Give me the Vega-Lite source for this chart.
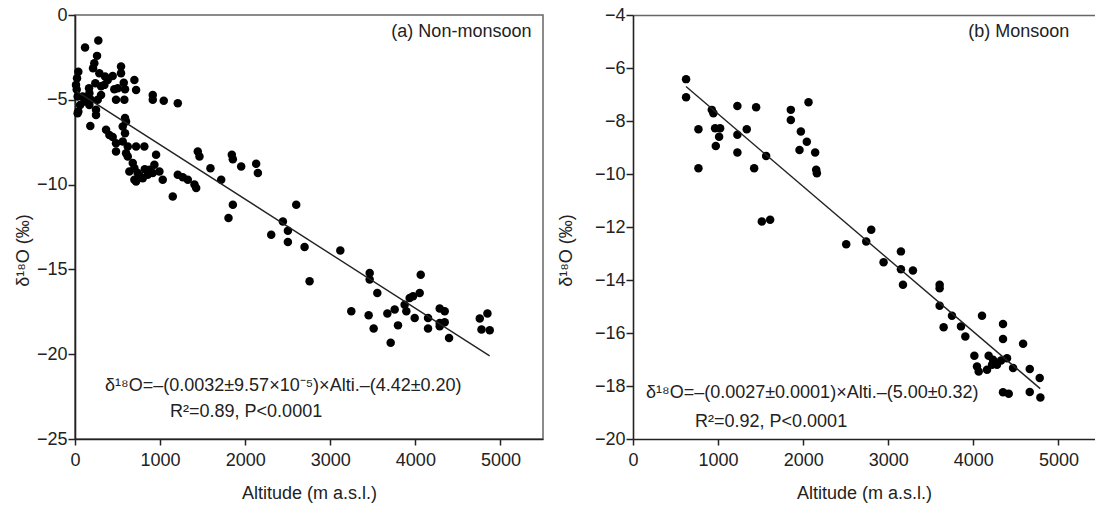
{
  "$schema": "https://vega.github.io/schema/vega-lite/v6.json",
  "padding": {"left": 13, "top": 5, "right": 0, "bottom": 0},
  "background": "white",
  "spacing": 13,
  "config": {
    "font": "Liberation Sans",
    "view": {"stroke": "#666", "strokeWidth": 1.5},
    "axis": {
      "grid": false,
      "domainColor": "#222",
      "domainWidth": 1.6,
      "tickColor": "#222",
      "tickWidth": 1.5,
      "tickSize": 6,
      "labelFont": "Liberation Sans",
      "labelFontSize": 18,
      "labelColor": "#222",
      "labelFlush": false,
      "titleFont": "Liberation Sans",
      "titleFontSize": 18,
      "titleFontWeight": "normal",
      "titleColor": "#222"
    }
  },
  "datasets": {
    "nonmonsoon": [
      {"alt": 274, "d18O": -1.51}, {"alt": 118, "d18O": -1.92}, {"alt": 259, "d18O": -2.41}, {"alt": 227, "d18O": -2.85},
      {"alt": 212, "d18O": -3.14}, {"alt": 286, "d18O": -3.43}, {"alt": 39, "d18O": -3.34}, {"alt": 24, "d18O": -3.73},
      {"alt": 12, "d18O": -4.12}, {"alt": 20, "d18O": -4.4}, {"alt": 541, "d18O": -3.04}, {"alt": 541, "d18O": -3.43},
      {"alt": 443, "d18O": -3.59}, {"alt": 353, "d18O": -3.63}, {"alt": 384, "d18O": -3.83}, {"alt": 698, "d18O": -3.83},
      {"alt": 718, "d18O": -4.42}, {"alt": 573, "d18O": -3.99}, {"alt": 588, "d18O": -4.38}, {"alt": 502, "d18O": -4.32},
      {"alt": 462, "d18O": -4.38}, {"alt": 482, "d18O": -5.0}, {"alt": 580, "d18O": -5.0}, {"alt": 914, "d18O": -4.71},
      {"alt": 914, "d18O": -5.0}, {"alt": 1043, "d18O": -5.06}, {"alt": 1208, "d18O": -5.2},
      {"alt": 31, "d18O": -4.81}, {"alt": 39, "d18O": -5.69}, {"alt": 110, "d18O": -5.1}, {"alt": 188, "d18O": -5.0},
      {"alt": 247, "d18O": -5.59}, {"alt": 169, "d18O": -5.3}, {"alt": 90, "d18O": -4.81}, {"alt": 267, "d18O": -5.0},
      {"alt": 169, "d18O": -4.61}, {"alt": 306, "d18O": -4.71}, {"alt": 345, "d18O": -4.12}, {"alt": 306, "d18O": -4.2},
      {"alt": 239, "d18O": -4.02}, {"alt": 165, "d18O": -4.32}, {"alt": 31, "d18O": -5.79}, {"alt": 247, "d18O": -5.9},
      {"alt": 60, "d18O": -5.3}, {"alt": 130, "d18O": -4.9},
      {"alt": 180, "d18O": -6.54}, {"alt": 365, "d18O": -6.77}, {"alt": 404, "d18O": -7.07}, {"alt": 443, "d18O": -7.2},
      {"alt": 588, "d18O": -6.08}, {"alt": 600, "d18O": -6.28}, {"alt": 561, "d18O": -6.58}, {"alt": 588, "d18O": -6.97},
      {"alt": 482, "d18O": -7.56}, {"alt": 561, "d18O": -7.46}, {"alt": 620, "d18O": -7.75}, {"alt": 482, "d18O": -8.05},
      {"alt": 600, "d18O": -8.15}, {"alt": 718, "d18O": -7.75}, {"alt": 815, "d18O": -7.75}, {"alt": 953, "d18O": -8.24},
      {"alt": 620, "d18O": -8.34}, {"alt": 679, "d18O": -8.73}, {"alt": 698, "d18O": -9.03}, {"alt": 737, "d18O": -9.32},
      {"alt": 639, "d18O": -9.23}, {"alt": 698, "d18O": -9.72}, {"alt": 718, "d18O": -9.82}, {"alt": 796, "d18O": -9.62},
      {"alt": 855, "d18O": -9.42}, {"alt": 874, "d18O": -9.13}, {"alt": 933, "d18O": -8.83}, {"alt": 914, "d18O": -9.32},
      {"alt": 992, "d18O": -9.23}, {"alt": 1031, "d18O": -9.72}, {"alt": 760, "d18O": -9.5}, {"alt": 820, "d18O": -9.1},
      {"alt": 1149, "d18O": -10.7}, {"alt": 1208, "d18O": -9.42}, {"alt": 1267, "d18O": -9.56}, {"alt": 1326, "d18O": -9.72},
      {"alt": 1404, "d18O": -10.0}, {"alt": 1424, "d18O": -10.2}, {"alt": 1443, "d18O": -8.05}, {"alt": 1463, "d18O": -8.34},
      {"alt": 1592, "d18O": -9.03}, {"alt": 1718, "d18O": -9.72}, {"alt": 1843, "d18O": -8.24}, {"alt": 1855, "d18O": -8.5},
      {"alt": 1953, "d18O": -8.93}, {"alt": 2129, "d18O": -8.77}, {"alt": 2149, "d18O": -9.32}, {"alt": 1855, "d18O": -11.19},
      {"alt": 1804, "d18O": -11.97},
      {"alt": 2306, "d18O": -12.96}, {"alt": 2443, "d18O": -12.17}, {"alt": 2502, "d18O": -12.72}, {"alt": 2502, "d18O": -13.39},
      {"alt": 2600, "d18O": -11.19}, {"alt": 2698, "d18O": -13.68}, {"alt": 3118, "d18O": -13.88}, {"alt": 2757, "d18O": -15.7},
      {"alt": 3463, "d18O": -15.21}, {"alt": 3463, "d18O": -15.6}, {"alt": 3553, "d18O": -16.39}, {"alt": 3247, "d18O": -17.47},
      {"alt": 3451, "d18O": -17.7}, {"alt": 3510, "d18O": -18.49}, {"alt": 3671, "d18O": -17.6}, {"alt": 3757, "d18O": -17.37},
      {"alt": 3710, "d18O": -19.33}, {"alt": 3796, "d18O": -18.3}, {"alt": 3874, "d18O": -17.08}, {"alt": 3894, "d18O": -17.47},
      {"alt": 3933, "d18O": -16.69}, {"alt": 3973, "d18O": -16.59}, {"alt": 3992, "d18O": -17.86}, {"alt": 4051, "d18O": -16.39},
      {"alt": 4063, "d18O": -15.31}, {"alt": 4149, "d18O": -17.86}, {"alt": 4149, "d18O": -18.49}, {"alt": 4286, "d18O": -17.31},
      {"alt": 4345, "d18O": -17.47}, {"alt": 4286, "d18O": -18.16}, {"alt": 4345, "d18O": -18.12}, {"alt": 4286, "d18O": -18.35},
      {"alt": 4396, "d18O": -19.04}, {"alt": 4757, "d18O": -17.9}, {"alt": 4847, "d18O": -17.6}, {"alt": 4777, "d18O": -18.55},
      {"alt": 4874, "d18O": -18.59}
    ],
    "monsoon": [
      {"alt": 624, "d18O": -6.42}, {"alt": 624, "d18O": -7.1}, {"alt": 769, "d18O": -8.31}, {"alt": 769, "d18O": -9.78},
      {"alt": 926, "d18O": -7.58}, {"alt": 945, "d18O": -7.71}, {"alt": 965, "d18O": -8.27}, {"alt": 1024, "d18O": -8.27},
      {"alt": 1012, "d18O": -8.59}, {"alt": 973, "d18O": -8.94}, {"alt": 1227, "d18O": -7.43}, {"alt": 1227, "d18O": -8.52},
      {"alt": 1227, "d18O": -9.19}, {"alt": 1337, "d18O": -8.31}, {"alt": 1447, "d18O": -7.48}, {"alt": 1424, "d18O": -9.78},
      {"alt": 1565, "d18O": -9.32}, {"alt": 1514, "d18O": -11.79}, {"alt": 1612, "d18O": -11.73}, {"alt": 1855, "d18O": -7.58},
      {"alt": 1855, "d18O": -7.96}, {"alt": 2063, "d18O": -7.29}, {"alt": 1973, "d18O": -8.4}, {"alt": 2043, "d18O": -8.78},
      {"alt": 1957, "d18O": -9.09}, {"alt": 2141, "d18O": -9.19}, {"alt": 2153, "d18O": -9.84}, {"alt": 2161, "d18O": -9.97},
      {"alt": 2506, "d18O": -12.65}, {"alt": 2741, "d18O": -12.55}, {"alt": 2800, "d18O": -12.1}, {"alt": 2945, "d18O": -13.33},
      {"alt": 3149, "d18O": -12.92}, {"alt": 3149, "d18O": -13.59}, {"alt": 3290, "d18O": -13.64}, {"alt": 3173, "d18O": -14.18},
      {"alt": 3604, "d18O": -14.18}, {"alt": 3604, "d18O": -14.31}, {"alt": 3604, "d18O": -14.97}, {"alt": 3749, "d18O": -15.35},
      {"alt": 3651, "d18O": -15.78}, {"alt": 3855, "d18O": -15.75}, {"alt": 3906, "d18O": -16.13}, {"alt": 4102, "d18O": -15.35},
      {"alt": 4349, "d18O": -15.66}, {"alt": 4349, "d18O": -16.23}, {"alt": 4585, "d18O": -16.41}, {"alt": 4012, "d18O": -16.86},
      {"alt": 4043, "d18O": -17.26}, {"alt": 4063, "d18O": -17.45}, {"alt": 4161, "d18O": -17.39}, {"alt": 4180, "d18O": -16.86},
      {"alt": 4231, "d18O": -17.01}, {"alt": 4278, "d18O": -17.2}, {"alt": 4326, "d18O": -17.04}, {"alt": 4396, "d18O": -16.95},
      {"alt": 4220, "d18O": -17.2}, {"alt": 4467, "d18O": -17.32}, {"alt": 4663, "d18O": -17.36}, {"alt": 4780, "d18O": -17.7},
      {"alt": 4349, "d18O": -18.24}, {"alt": 4416, "d18O": -18.29}, {"alt": 4663, "d18O": -18.23}, {"alt": 4788, "d18O": -18.43}
    ],
    "fitA": [{"alt": 20, "d18O": -4.5}, {"alt": 4873, "d18O": -20.1}],
    "fitB": [{"alt": 623, "d18O": -6.7}, {"alt": 4786, "d18O": -18.1}],
    "textA": [
      {"alt": 3718, "d18O": -0.98, "label": "(a) Non-monsoon"},
      {"alt": 353, "d18O": -21.85, "label": "δ¹⁸O=–(0.0032±9.57×10⁻⁵)×Alti.–(4.42±0.20)"},
      {"alt": 1117, "d18O": -23.42, "label": "R²=0.89, P<0.0001"}
    ],
    "textB": [
      {"alt": 3941, "d18O": -4.63, "label": "(b) Monsoon"},
      {"alt": 153, "d18O": -18.26, "label": "δ¹⁸O=–(0.0027±0.0001)×Alti.–(5.00±0.32)"},
      {"alt": 729, "d18O": -19.37, "label": "R²=0.92, P<0.0001"}
    ]
  },
  "hconcat": [
    {
      "width": 468,
      "height": 424,
      "layer": [
        {
          "data": {"name": "nonmonsoon"},
          "mark": {"type": "point", "filled": true, "shape": "circle", "size": 72, "color": "black", "opacity": 1},
          "encoding": {
            "x": {"field": "alt", "type": "quantitative", "scale": {"domain": [0, 5500], "nice": false},
              "axis": {"values": [0, 1000, 2000, 3000, 4000, 5000], "format": "d", "title": "Altitude (m a.s.l.)", "labelPadding": 6, "titlePadding": 15}},
            "y": {"field": "d18O", "type": "quantitative", "scale": {"domain": [-25, 0], "nice": false},
              "axis": {"values": [-25, -20, -15, -10, -5, 0], "format": "d", "title": "δ¹⁸O (‰)", "tickSize": 7, "labelPadding": 1, "titlePadding": 4, "titleY": 235}}
          }
        },
        {
          "data": {"name": "fitA"},
          "mark": {"type": "line", "color": "#222", "strokeWidth": 1.4},
          "encoding": {"x": {"field": "alt", "type": "quantitative"}, "y": {"field": "d18O", "type": "quantitative"}}
        },
        {
          "data": {"name": "textA"},
          "mark": {"type": "text", "align": "left", "baseline": "middle", "fontSize": 18, "font": "Liberation Sans", "color": "#222"},
          "encoding": {"x": {"field": "alt", "type": "quantitative"}, "y": {"field": "d18O", "type": "quantitative"}, "text": {"field": "label"}}
        }
      ]
    },
    {
      "width": 462,
      "height": 424,
      "view": {"stroke": null},
      "resolve": {"axis": {"x": "independent"}},
      "layer": [
        {
          "data": {"name": "monsoon"},
          "mark": {"type": "point", "filled": true, "shape": "circle", "size": 72, "color": "black", "opacity": 1},
          "encoding": {
            "x": {"field": "alt", "type": "quantitative", "scale": {"domain": [0, 5430], "nice": false},
              "axis": {"values": [0, 1000, 2000, 3000, 4000, 5000], "format": "d", "title": "Altitude (m a.s.l.)", "labelPadding": 6, "titlePadding": 15}},
            "y": {"field": "d18O", "type": "quantitative", "scale": {"domain": [-20, -4], "nice": false},
              "axis": {"values": [-20, -18, -16, -14, -12, -10, -8, -6, -4], "format": "d", "title": "δ¹⁸O (‰)", "tickSize": 7, "labelPadding": 1, "titlePadding": 19, "titleY": 235}}
          }
        },
        {
          "data": {"name": "fitB"},
          "mark": {"type": "line", "color": "#222", "strokeWidth": 1.4},
          "encoding": {
            "x": {"field": "alt", "type": "quantitative",
              "axis": {"orient": "top", "labels": false, "ticks": false, "title": null, "domainColor": "#666", "domainWidth": 1.5}},
            "y": {"field": "d18O", "type": "quantitative"}
          }
        },
        {
          "data": {"name": "textB"},
          "mark": {"type": "text", "align": "left", "baseline": "middle", "fontSize": 18, "font": "Liberation Sans", "color": "#222"},
          "encoding": {"x": {"field": "alt", "type": "quantitative", "axis": null}, "y": {"field": "d18O", "type": "quantitative"}, "text": {"field": "label"}}
        }
      ]
    }
  ]
}
